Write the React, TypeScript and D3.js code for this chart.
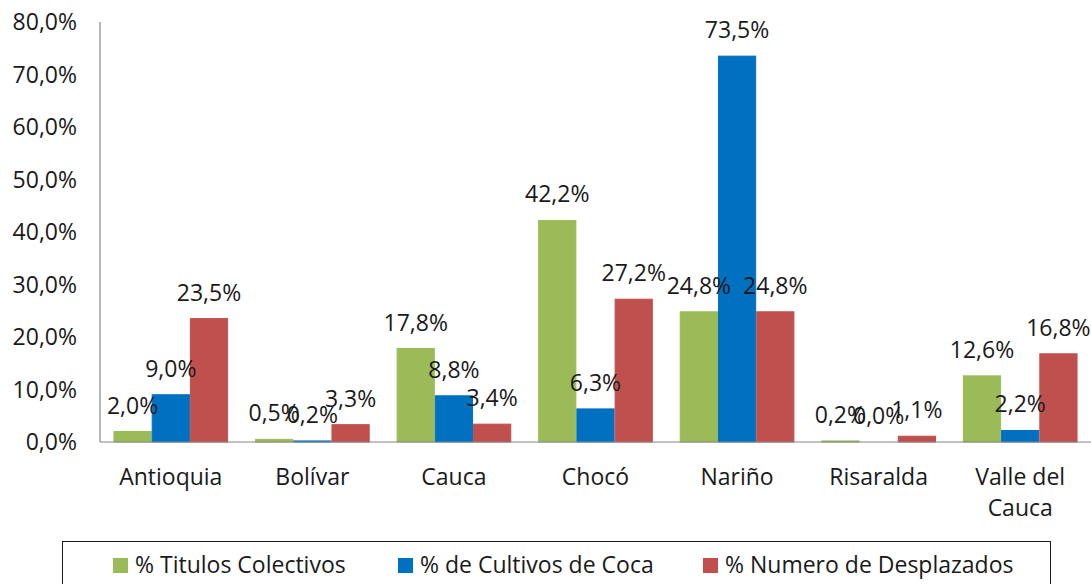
import React, { useEffect, useRef } from "react";
import * as d3 from "d3";

const categories = ["Antioquia", "Bolívar", "Cauca", "Chocó", "Nariño", "Risaralda", "Valle del Cauca"];
const seriesNames = ["% Titulos Colectivos", "% de Cultivos de Coca", "% Numero de Desplazados"];
const titulos = [2.0, 0.5, 17.8, 42.2, 24.8, 0.2, 12.6];
const cultivos = [9.0, 0.2, 8.8, 6.3, 73.5, 0.0, 2.2];
const desplazados = [23.5, 3.3, 3.4, 27.2, 24.8, 1.1, 16.8];
const yTicks = [0, 10, 20, 30, 40, 50, 60, 70, 80];
const colors = ["#9BBB59", "#0070C0", "#C0504D"];

const FONT = "'Open Sans', sans-serif";
const FS = "23px";
const fmt = (v: number) => v.toFixed(1).replace(".", ",") + "%";

const App = () => {
  const svgRef = useRef<SVGSVGElement>(null);

  useEffect(() => {
    const width = 1091;
    const height = 584;
    const m = { top: 22, right: 0, bottom: 142, left: 100 };

    const svg = d3.select(svgRef.current);
    svg.selectAll("*").remove();

    const series = [titulos, cultivos, desplazados];

    const x = d3
      .scaleBand<string>()
      .domain(categories)
      .range([m.left, width - m.right])
      .paddingInner(0.19)
      .paddingOuter(0.095);

    const x1 = d3.scaleBand<number>().domain([0, 1, 2]).range([0, x.bandwidth()]);

    const y = d3.scaleLinear().domain([0, 80]).range([height - m.bottom, m.top]);

    // y tick labels
    svg
      .append("g")
      .selectAll("text")
      .data(yTicks)
      .join("text")
      .attr("x", 77)
      .attr("y", (d) => y(d))
      .attr("dy", "0.35em")
      .attr("text-anchor", "end")
      .style("font-family", FONT)
      .style("font-size", FS)
      .style("fill", "#1a1a1a")
      .text((d) => d.toFixed(1).replace(".", ",") + "%");

    // bars (thin same-colour outline like excel)
    series.forEach((vals, si) => {
      svg
        .append("g")
        .selectAll("rect")
        .data(vals.filter((v) => v > 0).length ? vals : [])
        .join("rect")
        .attr("x", (d, i) => x(categories[i])! + x1(si)! + 0.5)
        .attr("y", (d) => y(d))
        .attr("width", x1.bandwidth() - 1)
        .attr("height", (d) => y(0) - y(d))
        .attr("fill", colors[si])
        .attr("stroke", (d) => (d > 0 ? colors[si] : "none"))
        .attr("stroke-width", 1);
    });

    // axes lines
    svg
      .append("line")
      .attr("x1", m.left)
      .attr("x2", m.left)
      .attr("y1", m.top)
      .attr("y2", y(0))
      .attr("stroke", "#868686")
      .attr("stroke-width", 1.2);
    svg
      .append("line")
      .attr("x1", m.left)
      .attr("x2", width)
      .attr("y1", y(0))
      .attr("y2", y(0))
      .attr("stroke", "#868686")
      .attr("stroke-width", 1.2);

    // data labels
    series.forEach((vals, si) => {
      svg
        .append("g")
        .selectAll("text")
        .data(vals)
        .join("text")
        .attr("x", (d, i) => x(categories[i])! + x1(si)! + x1.bandwidth() / 2)
        .attr("y", (d) => y(d) - 18)
        .attr("text-anchor", "middle")
        .style("font-family", FONT)
        .style("font-size", FS)
        .style("fill", "#1a1a1a")
        .text((d) => fmt(d));
    });

    // category labels
    svg
      .append("g")
      .selectAll("text")
      .data(categories)
      .join("text")
      .attr("x", (d) => x(d)! + x.bandwidth() / 2)
      .attr("y", 485)
      .attr("text-anchor", "middle")
      .style("font-family", FONT)
      .style("font-size", FS)
      .style("fill", "#1a1a1a")
      .each(function (d) {
        const lines = d === "Valle del Cauca" ? ["Valle del", "Cauca"] : [d];
        d3.select(this)
          .selectAll("tspan")
          .data(lines)
          .join("tspan")
          .attr("x", x(d)! + x.bandwidth() / 2)
          .attr("dy", (l, i) => (i === 0 ? 0 : "1.35em"))
          .text((l) => l);
      });

    // legend
    const legend = svg.append("g");
    legend
      .append("rect")
      .attr("x", 62.5)
      .attr("y", 541.5)
      .attr("width", 988)
      .attr("height", 60)
      .attr("fill", "none")
      .attr("stroke", "#1a1a1a")
      .attr("stroke-width", 1);
    const legendX = [113, 398, 703];
    seriesNames.forEach((name, i) => {
      legend
        .append("rect")
        .attr("x", legendX[i])
        .attr("y", 558)
        .attr("width", 15)
        .attr("height", 15)
        .attr("fill", colors[i]);
      legend
        .append("text")
        .attr("x", legendX[i] + 22)
        .attr("y", 565)
        .attr("dy", "0.35em")
        .style("font-family", FONT)
        .style("font-size", FS)
        .style("fill", "#1a1a1a")
        .text(name);
    });
  }, []);

  return (
    <svg
      ref={svgRef}
      width={1091}
      height={584}
      style={{ position: "absolute", left: 0, top: 0, background: "#fff" }}
    />
  );
};

export default App;
